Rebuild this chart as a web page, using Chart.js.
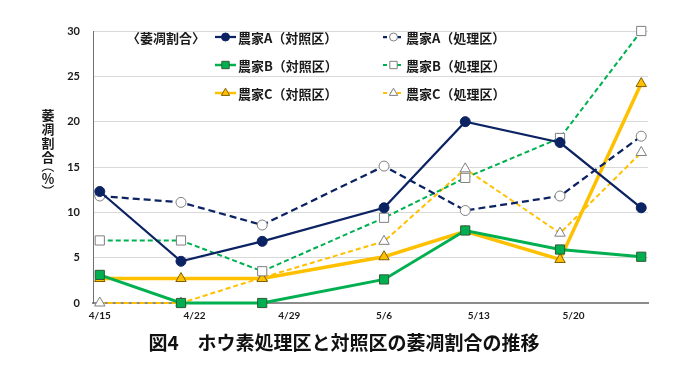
<!DOCTYPE html>
<html>
<head>
<meta charset="utf-8">
<script src="https://cdn.jsdelivr.net/npm/chart.js@4.4.1/dist/chart.umd.min.js"></script>
<style>
  html, body { margin: 0; padding: 0; background: #ffffff; }
  #wrap { width: 700px; height: 385px; }
</style>
</head>
<body>
<div id="wrap"><canvas id="chart" width="700" height="385"></canvas></div>
<script>
// survey dates and weekly axis labels
const surveyDates = ["4/15", "4/21", "4/27", "5/6", "5/12", "5/19", "5/25"];
const tickLabels = ["4/15", "4/22", "4/29", "5/6", "5/13", "5/20"];

// 萎凋割合 (%)
const farmAControl = [12.3, 4.6, 6.8, 10.5, 20.0, 17.7, 10.5];
const farmATreated = [11.8, 11.1, 8.6, 15.1, 10.2, 11.8, 18.4];
const farmBControl = [3.1, 0, 0, 2.6, 8.0, 5.9, 5.1];
const farmBTreated = [6.9, 6.9, 3.5, 9.4, 13.8, 18.2, 30.0];
const farmCControl = [2.7, 2.7, 2.7, 5.1, 7.9, 4.8, 24.2];
const farmCTreated = [0, 0, 2.8, 6.8, 14.8, 7.7, 16.6];

const JP_FONT = "'Noto Sans CJK JP', 'Noto Sans', sans-serif";
const NUM_FONT = "Lato, 'Noto Sans', sans-serif";

function dayOf(label) {
  const [m, d] = label.split("/").map(Number);
  const base = new Date(2020, 3, 15);
  return Math.round((new Date(2020, m - 1, d) - base) / 86400000);
}

function toPoints(values) {
  return values.map((v, i) => ({ x: dayOf(surveyDates[i]), y: v }));
}

function series(label, values, color, opts) {
  return Object.assign({
    label: label,
    data: toPoints(values),
    borderColor: color,
    backgroundColor: color,
    borderWidth: 2.25,
    pointBorderWidth: 1,
    pointRadius: 5,
    pointHoverRadius: 5,
    tension: 0,
    clip: false
  }, opts);
}

const NAVY = "#0c2363";
const GREEN = "#00b050";
const GOLD = "#ffc000";
const GRAY = "#7f7f7f";

const datasets = [
  series("農家A（対照区）", farmAControl, NAVY, { pointStyle: "circle", pointBackgroundColor: NAVY, pointBorderColor: NAVY }),
  series("農家A（処理区）", farmATreated, NAVY, { pointStyle: "circle", borderDash: [7, 4], pointBackgroundColor: "#fff", pointBorderColor: GRAY }),
  series("農家B（対照区）", farmBControl, GREEN, { pointStyle: "rect", borderWidth: 3, pointRadius: 6.5, pointBackgroundColor: GREEN, pointBorderColor: "#2f5a35" }),
  series("農家B（処理区）", farmBTreated, GREEN, { pointStyle: "rect", borderWidth: 2, borderDash: [5, 3], pointRadius: 6.5, pointBackgroundColor: "#fff", pointBorderColor: GRAY }),
  series("農家C（対照区）", farmCControl, GOLD, { pointStyle: "triangle", borderWidth: 3.5, pointRadius: 6, pointBackgroundColor: GOLD, pointBorderColor: "#7f6000" }),
  series("農家C（処理区）", farmCTreated, GOLD, { pointStyle: "triangle", borderWidth: 2, borderDash: [5, 3], pointRadius: 6, pointBackgroundColor: "#fff", pointBorderColor: GRAY })
];

// legend inside the plot, y title in stacked characters, caption under the chart
const decorations = {
  id: "decorations",
  afterDraw(chart) {
    const ctx = chart.ctx;
    ctx.save();
    ctx.fillStyle = "#1a1a1a";
    ctx.textBaseline = "middle";

    ctx.font = "bold 13px " + JP_FONT;
    ctx.textAlign = "left";
    ctx.fillText("〈萎凋割合〉", 127, 38);

    const colX = [215, 383];
    const rowY = [37, 65, 93];
    chart.data.datasets.forEach((ds, i) => {
      const x0 = colX[i % 2];
      const y = rowY[Math.floor(i / 2)];
      ctx.save();
      ctx.strokeStyle = ds.borderColor;
      ctx.lineWidth = Math.min(ds.borderWidth, 2.5);
      ctx.setLineDash(ds.borderDash ? [4, 3] : []);
      ctx.beginPath();
      ctx.moveTo(x0, y);
      ctx.lineTo(x0 + 21, y);
      ctx.stroke();
      ctx.setLineDash([]);
      ctx.fillStyle = ds.pointBackgroundColor;
      ctx.strokeStyle = ds.pointBorderColor;
      ctx.lineWidth = 1;
      Chart.helpers.drawPoint(ctx, { pointStyle: ds.pointStyle, rotation: 0, radius: ds.pointRadius * 0.8, borderWidth: 1 }, x0 + 10.5, y);
      ctx.restore();
      ctx.fillStyle = "#1a1a1a";
      ctx.font = "bold 13px " + JP_FONT;
      ctx.fillText(ds.label, x0 + 23, y + 1);
    });

    // y axis title, upright characters with turned brackets
    ctx.textAlign = "center";
    ctx.font = "bold 13px " + JP_FONT;
    ["萎", "凋", "割", "合"].forEach((c, i) => ctx.fillText(c, 48, 115 + i * 14));
    ctx.fillText("％", 48, 178);
    [["（", 166], ["）", 191]].forEach(([c, y]) => {
      ctx.save();
      ctx.translate(48, y);
      ctx.rotate(Math.PI / 2);
      ctx.font = "13px " + JP_FONT;
      ctx.fillText(c, 0, 0);
      ctx.restore();
    });

    // caption
    ctx.font = "bold 19px " + JP_FONT;
    ctx.fillStyle = "#111";
    ctx.textAlign = "center";
    ctx.fillText("図4　ホウ素処理区と対照区の萎凋割合の推移", 344, 343);
    ctx.restore();
  }
};

new Chart(document.getElementById("chart"), {
  type: "line",
  data: { datasets: datasets },
  options: {
    responsive: false,
    animation: false,
    layout: { padding: { left: 0, top: 31, right: 52, bottom: 0 } },
    plugins: {
      legend: { display: false },
      tooltip: { enabled: false }
    },
    scales: {
      x: {
        type: "linear",
        min: -0.5,
        max: 40.5,
        afterBuildTicks(scale) {
          scale.ticks = tickLabels.map((l) => ({ value: dayOf(l) }));
        },
        afterFit(scale) {
          scale.height = 82;
        },
        grid: { display: false, drawTicks: false },
        border: { display: true, color: "#8c8c8c", width: 2 },
        ticks: {
          padding: 7,
          autoSkip: false,
          maxRotation: 0,
          color: "#1a1a1a",
          font: { family: NUM_FONT, size: 10, weight: "bold" },
          callback(value) {
            const found = tickLabels.find((l) => dayOf(l) === value);
            return found || "";
          }
        }
      },
      y: {
        min: 0,
        max: 30,
        afterFit(scale) {
          scale.width = 93;
        },
        grid: { color: "#d9d9d9", lineWidth: 1, drawTicks: false },
        border: { display: true, color: "#6f6f6f", width: 1 },
        ticks: {
          stepSize: 5,
          padding: 13,
          color: "#1a1a1a",
          font: { family: NUM_FONT, size: 11, weight: "bold" }
        }
      }
    }
  },
  plugins: [decorations]
});
</script>
</body>
</html>
